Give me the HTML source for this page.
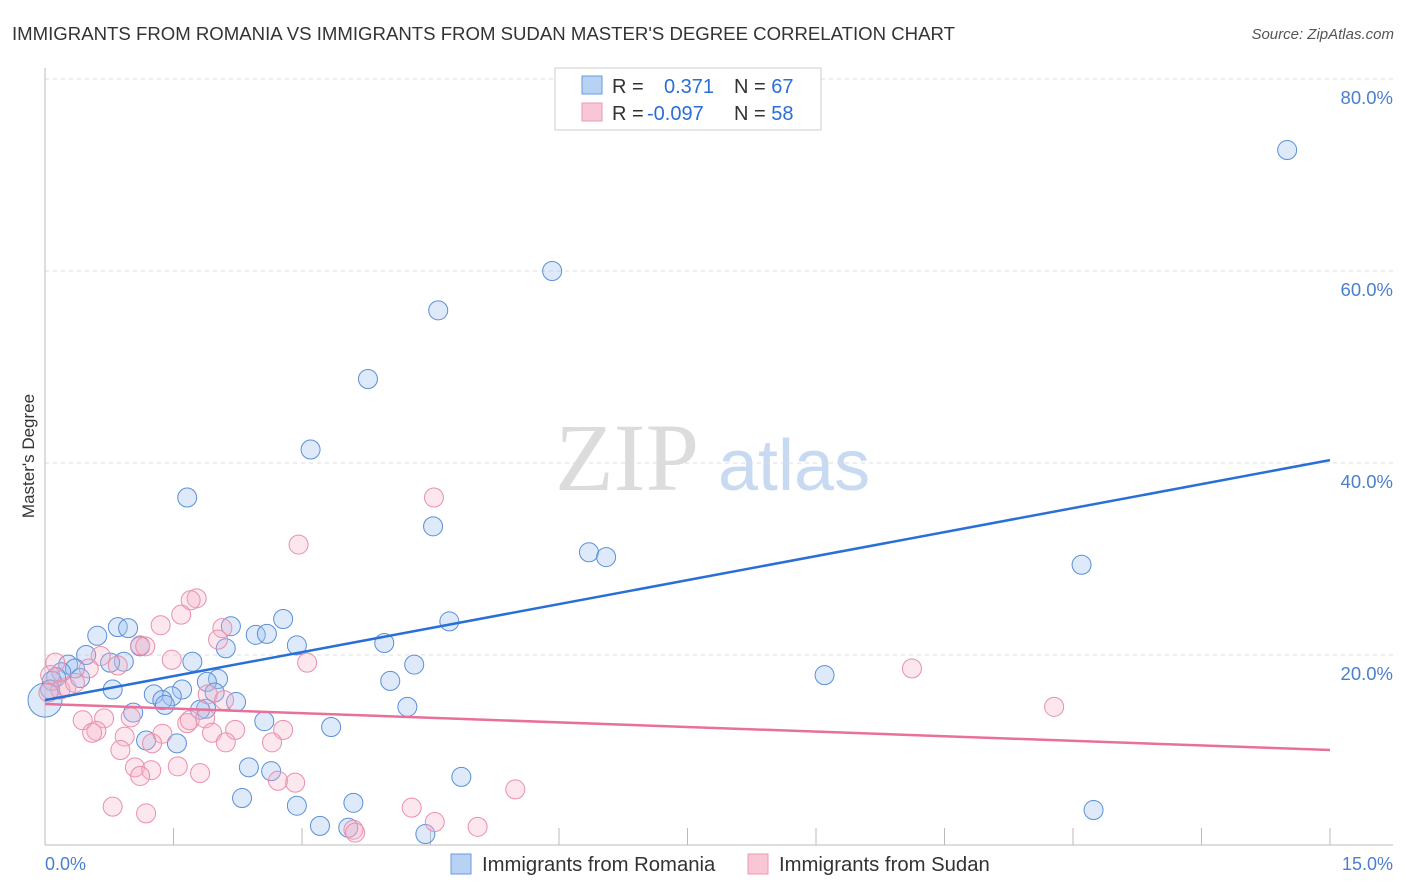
<!DOCTYPE html>
<html><head><meta charset="utf-8"><style>
body{margin:0;background:#fff;font-family:"Liberation Sans",sans-serif;}
svg{display:block}
</style></head><body>
<svg id="chart" width="1406" height="892">
<text x="12" y="40" font-size="18.6" fill="#333">IMMIGRANTS FROM ROMANIA VS IMMIGRANTS FROM SUDAN MASTER'S DEGREE CORRELATION CHART</text>
<text x="1394" y="39" font-size="15" fill="#555" font-style="italic" text-anchor="end">Source: ZipAtlas.com</text>
<g>
<text x="555" y="490" font-size="96" font-family="Liberation Serif,serif" fill="#dcdcdc">ZIP</text>
<text x="718" y="490" font-size="72" fill="#c8daf2">atlas</text>
</g>
<g id="grid"></g>
<line x1="45" y1="68" x2="45" y2="845" stroke="#bbb"/>
<line x1="45" y1="845" x2="1393" y2="845" stroke="#bbb"/>
<text transform="translate(34,456) rotate(-90)" font-size="17" fill="#333" text-anchor="middle">Master's Degree</text>
<text x="45" y="870" font-size="18" fill="#4a7fd0">0.0%</text>
<text x="1393" y="870" font-size="18" fill="#4a7fd0" text-anchor="end">15.0%</text>
<g id="points"></g>
<g id="lines"></g>
<g>
<rect x="555" y="68" width="266" height="62" fill="#fff" stroke="#ccc"/>
<rect x="582" y="76" width="20" height="18" fill="#b8d2f4" stroke="#6a9ae0"/>
<rect x="582" y="103" width="20" height="18" fill="#f9c6d6" stroke="#ec9ab4"/>
<text x="612" y="93" font-size="20" fill="#333">R = <tspan x="664" fill="#2a6fd6">0.371</tspan><tspan x="734" fill="#333">N = </tspan><tspan fill="#2a6fd6">67</tspan></text>
<text x="612" y="120" font-size="20" fill="#333">R = <tspan x="647" fill="#2a6fd6">-0.097</tspan><tspan x="734" fill="#333">N = </tspan><tspan fill="#2a6fd6">58</tspan></text>
</g>
<g>
<rect x="451" y="854" width="20" height="20" fill="#b8d2f4" stroke="#6a9ae0"/>
<text x="482" y="871" font-size="20.3" fill="#333">Immigrants from Romania</text>
<rect x="748" y="854" width="20" height="20" fill="#f9c6d6" stroke="#ec9ab4"/>
<text x="779" y="871" font-size="20.3" fill="#333">Immigrants from Sudan</text>
</g>
</svg>
<script>
const romaniaX=[14.50,5.92,4.59,3.77,3.10,1.66,4.53,6.35,6.55,12.10,4.72,2.78,2.17,0.85,0.97,2.46,2.59,0.61,2.94,3.96,1.11,2.11,0.48,1.72,0.92,0.27,0.76,0.35,0.19,4.31,0.13,0.41,0.08,0.06,0.0,9.10,2.02,1.89,4.03,0.79,1.60,1.27,1.48,1.37,1.98,2.23,1.40,1.88,4.23,1.81,1.03,2.56,3.34,1.18,1.54,2.38,2.64,4.86,2.30,2.94,3.60,12.24,3.21,3.54,4.44];
const romaniaY=[72.6,60.0,55.9,48.75,41.4,36.4,33.4,30.7,30.2,29.4,23.5,23.75,23.0,22.9,22.8,22.1,22.2,22.0,21.0,21.25,20.9,20.7,20.0,19.3,19.3,19.0,19.2,18.6,18.2,19.0,17.7,17.6,17.3,16.4,15.3,17.9,17.5,17.2,17.3,16.4,16.4,15.9,15.7,15.3,16.1,15.1,14.8,14.4,14.6,14.3,14.0,13.1,12.5,11.1,10.8,8.3,7.9,7.3,5.1,4.3,4.6,3.85,2.2,2.0,1.35];
const sudanX=[4.54,2.96,1.77,1.70,1.59,1.35,1.11,2.07,2.02,1.17,3.06,1.48,0.65,0.85,0.51,0.12,0.06,0.18,0.25,0.35,0.04,10.12,11.78,1.90,2.09,0.44,0.69,1.00,1.66,1.37,1.69,1.87,2.22,0.60,0.55,0.93,1.95,2.78,2.11,2.65,0.88,1.25,1.05,1.24,1.55,1.11,1.81,2.72,2.92,5.49,0.79,1.18,4.28,4.55,5.05,3.60,3.62];
const sudanY=[36.4,31.5,25.9,25.7,24.2,23.1,21.0,22.8,21.6,20.9,19.2,19.5,19.9,18.9,18.6,19.2,17.9,16.4,16.6,17.1,16.1,18.6,14.6,15.9,15.3,13.2,13.4,13.5,12.9,11.8,13.2,13.4,12.2,12.1,11.9,11.5,11.9,12.2,10.9,10.9,10.1,10.8,8.3,8.0,8.4,7.4,7.7,6.9,6.7,6.0,4.2,3.5,4.1,2.6,2.1,1.8,1.5];
const trendX=[0,15];
const romaniaTrend=[15.3,40.3];
const sudanTrend=[14.9,10.1];
const yTicks=[20,40,60,80];
const yTickLabels=["20.0%","40.0%","60.0%","80.0%"];
const xTicks=[0,1.5,3,4.5,6,7.5,9,10.5,12,13.5,15];

const NS="http://www.w3.org/2000/svg";
const sx=v=>45+v*(1285/15);
const sy=v=>847-v*9.6;
function mk(tag,attrs,parent){const e=document.createElementNS(NS,tag);for(const k in attrs)e.setAttribute(k,attrs[k]);parent.appendChild(e);return e;}
const grid=document.getElementById('grid');
yTicks.forEach((t,i)=>{
  const l=mk('line',{x1:45,x2:1393,y1:sy(t),y2:sy(t),stroke:'#ddd','stroke-dasharray':'4,4'},grid);
  
  
  const tx=mk('text',{x:1393,y:sy(t)+25,'font-size':18.5,fill:'#4a7fd0','text-anchor':'end'},grid);
  tx.textContent=yTickLabels[i];
  
  
});
xTicks.forEach(t=>{
  const l=mk('line',{x1:sx(t),x2:sx(t),y1:828,y2:845,stroke:'#bbb'},grid);
  
  
});
const pts=document.getElementById('points');
romaniaX.forEach((x,i)=>{
  const r=(x<0.05)?17:9.5;
  const c=mk('circle',{cx:sx(x),cy:sy(romaniaY[i]),r:r,fill:'rgba(160,196,240,0.35)',stroke:'#5b8fd8','stroke-width':1},pts);
  
  
});
sudanX.forEach((x,i)=>{
  const c=mk('circle',{cx:sx(x),cy:sy(sudanY[i]),r:9.5,fill:'rgba(245,175,198,0.3)',stroke:'#eb8fab','stroke-width':1},pts);
  
  
});
const lines=document.getElementById('lines');
const l1=mk('line',{x1:sx(trendX[0]),y1:sy(romaniaTrend[0]),x2:sx(trendX[1]),y2:sy(romaniaTrend[1]),stroke:'#2a6fd6','stroke-width':2.5},lines);


const l2=mk('line',{x1:sx(trendX[0]),y1:sy(sudanTrend[0]),x2:sx(trendX[1]),y2:sy(sudanTrend[1]),stroke:'#e8709a','stroke-width':2.5},lines);


</script>
</body></html>
